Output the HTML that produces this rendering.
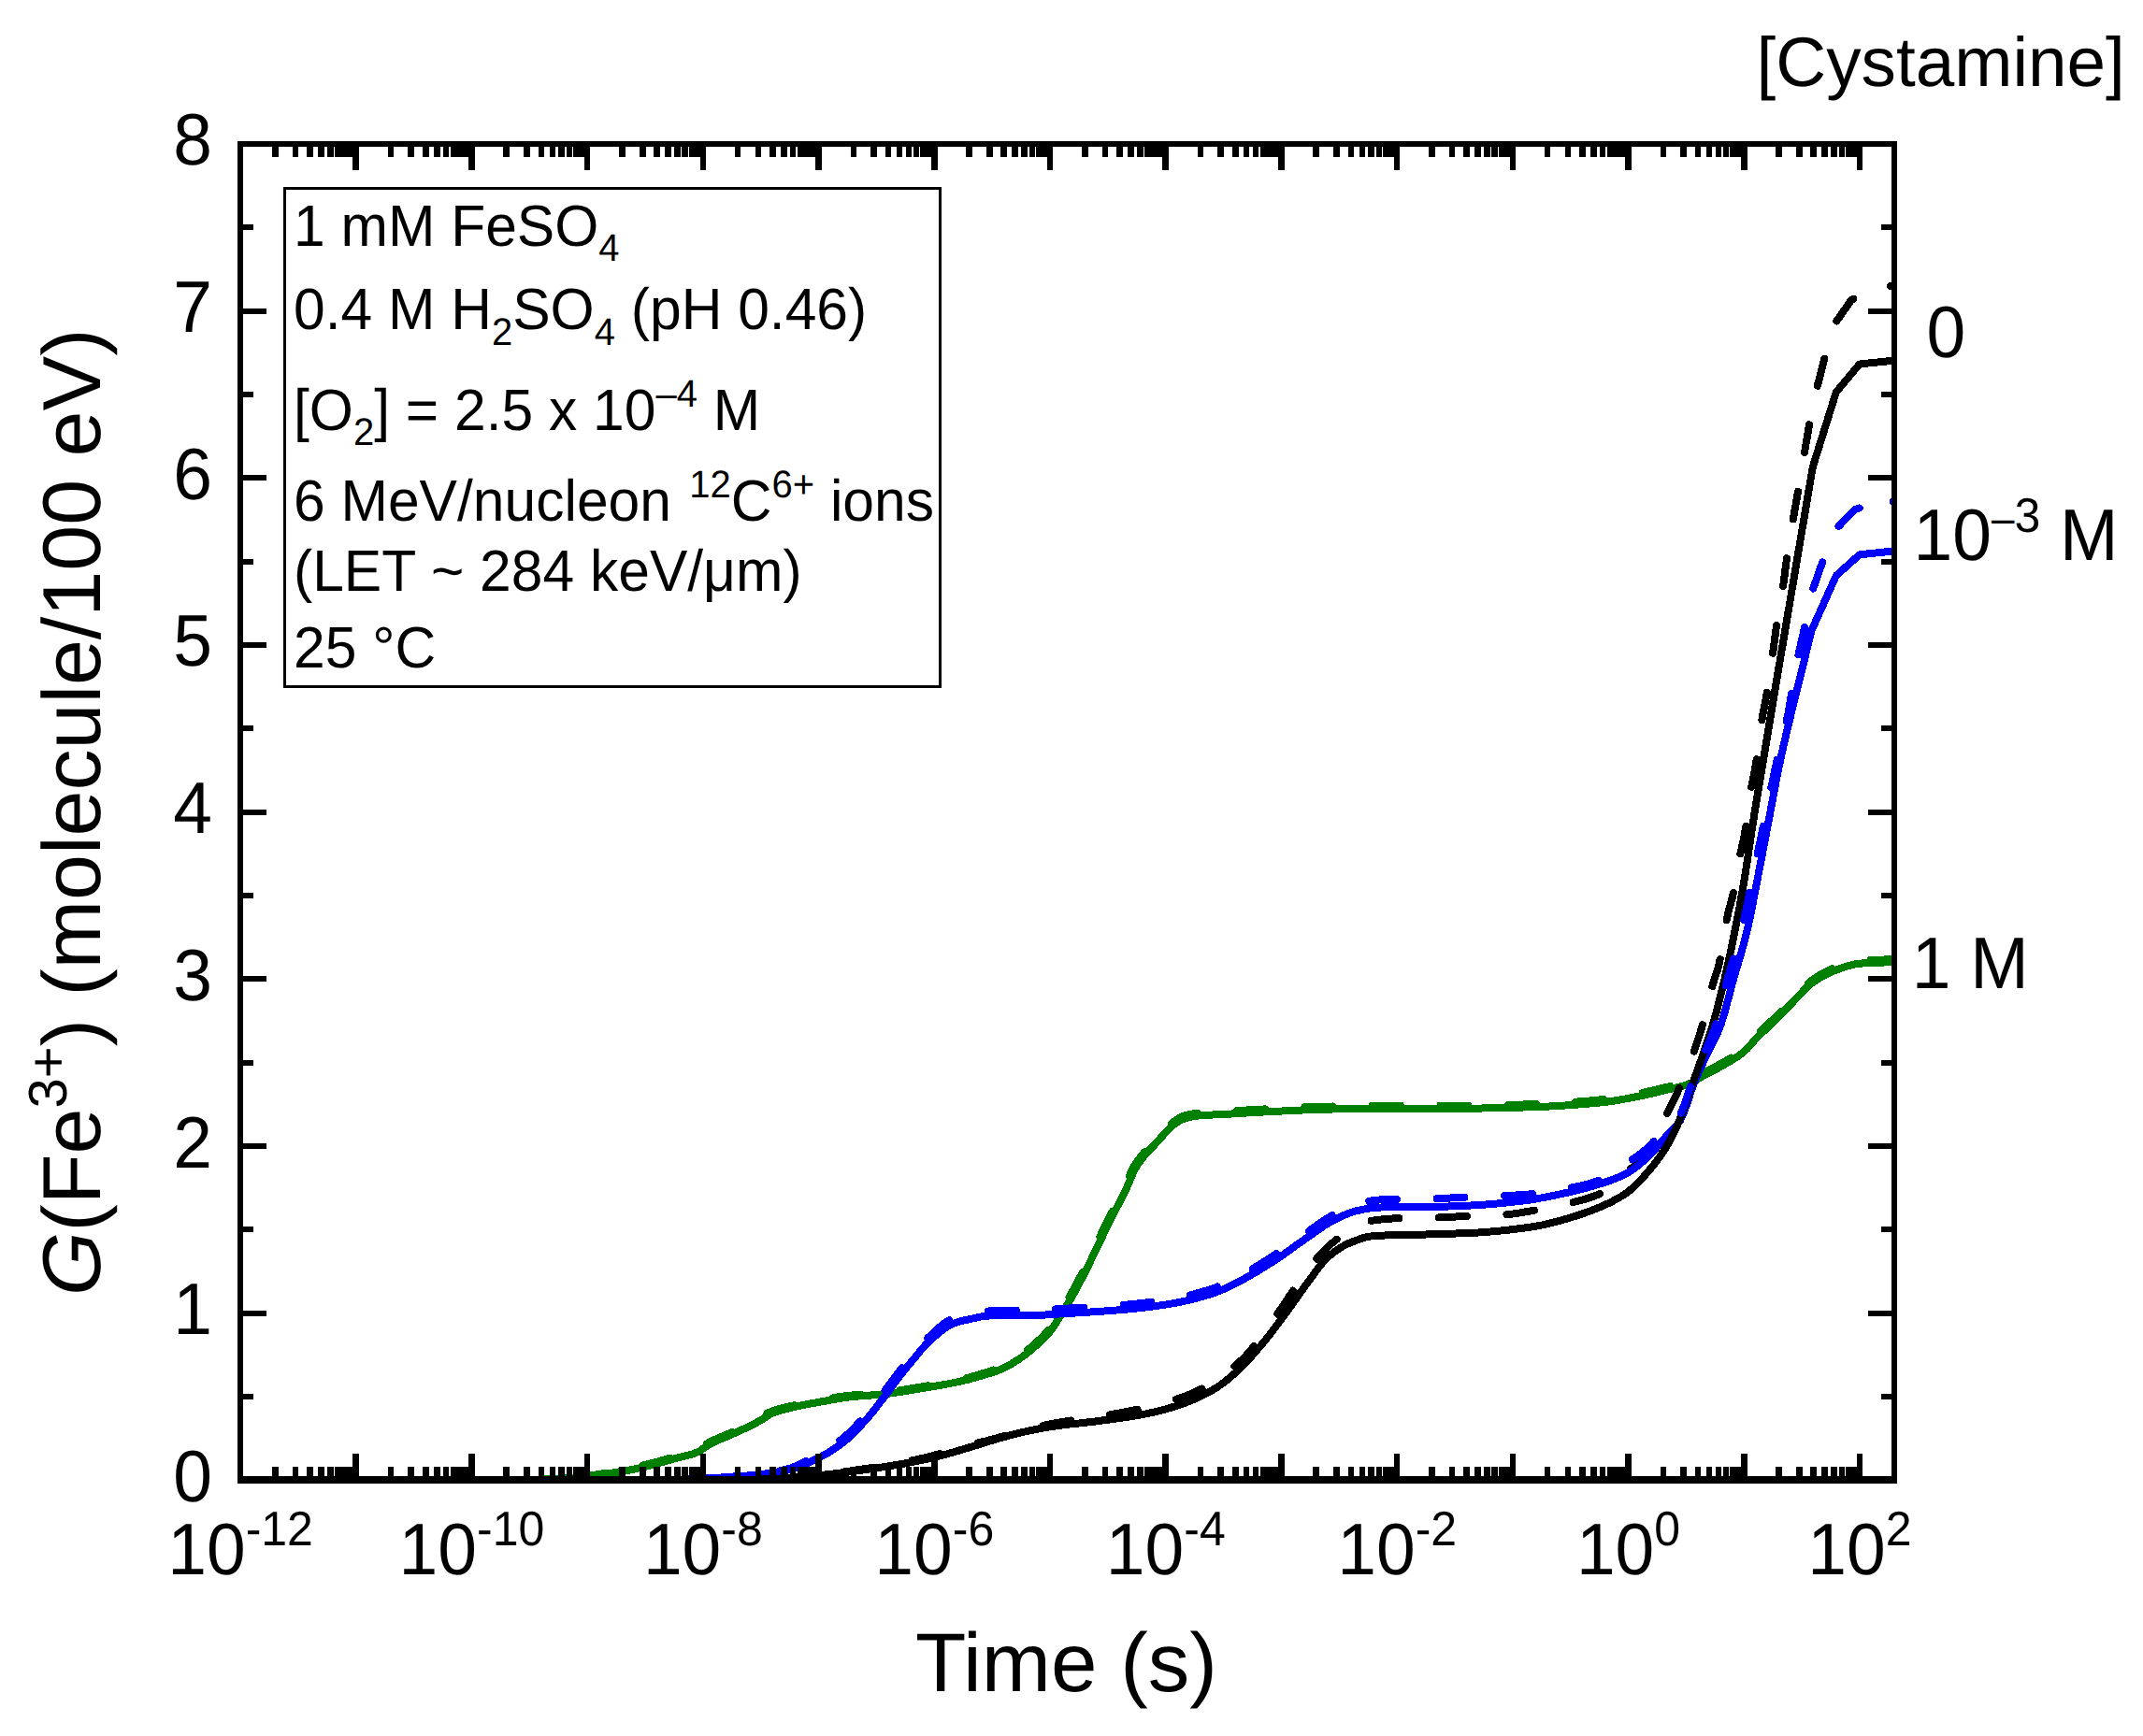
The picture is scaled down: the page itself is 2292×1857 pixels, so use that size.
<!DOCTYPE html>
<html lang="en"><head><meta charset="utf-8"><title>G(Fe3+) versus time</title>
<style>html,body{margin:0;padding:0;background:#fff}svg{display:block}text{font-family:"Liberation Sans", Arial, Helvetica, sans-serif;fill:#000}</style></head><body>
<svg width="2292" height="1857" viewBox="0 0 2292 1857" shape-rendering="crispEdges" text-rendering="geometricPrecision">
<rect x="0" y="0" width="2292" height="1857" fill="#fff"/>
<defs><clipPath id="plot"><rect x="257.0" y="154.0" width="1769.0" height="1432.0"/></clipPath></defs>
<g clip-path="url(#plot)" fill="none" stroke-linecap="round" stroke-linejoin="round" stroke-width="8" shape-rendering="crispEdges">
<path d="M257.0,1583.4 L261.0,1583.4 L265.0,1583.4 L269.0,1583.4 L273.0,1583.4 L277.0,1583.4 L281.0,1583.4 L285.0,1583.4 L289.0,1583.4 L293.0,1583.4 L297.0,1583.4 L301.0,1583.4 L305.0,1583.4 L309.0,1583.4 L313.0,1583.4 L317.0,1583.4 L321.0,1583.4 L325.0,1583.4 L329.0,1583.4 L333.0,1583.4 L337.0,1583.4 L341.0,1583.4 L345.0,1583.4 L349.0,1583.4 L353.0,1583.4 L357.0,1583.4 L361.0,1583.4 L365.0,1583.4 L369.0,1583.4 L373.0,1583.4 L377.0,1583.4 L381.0,1583.4 L385.0,1583.4 L389.0,1583.4 L393.0,1583.4 L397.0,1583.4 L401.0,1583.4 L405.0,1583.4 L409.0,1583.4 L413.0,1583.4 L417.0,1583.4 L421.0,1583.4 L425.0,1583.4 L429.0,1583.4 L433.0,1583.4 L437.0,1583.4 L441.0,1583.4 L445.0,1583.4 L449.0,1583.4 L453.0,1583.4 L457.0,1583.4 L461.0,1583.4 L465.0,1583.4 L469.0,1583.4 L473.0,1583.3 L477.0,1583.3 L481.0,1583.3 L485.0,1583.3 L489.0,1583.3 L493.0,1583.3 L497.0,1583.3 L501.0,1583.3 L505.0,1583.3 L509.0,1583.3 L513.0,1583.3 L517.0,1583.3 L521.0,1583.3 L525.0,1583.2 L529.0,1583.2 L533.0,1583.2 L537.0,1583.2 L541.0,1583.2 L545.0,1583.2 L549.0,1583.1 L553.0,1583.1 L557.0,1583.0 L561.0,1583.0 L565.0,1582.9 L569.0,1582.8 L573.0,1582.7 L577.0,1582.6 L581.0,1582.5 L585.0,1582.4 L589.0,1582.2 L593.0,1582.1 L597.0,1581.9 L601.0,1581.6 L605.0,1581.3 L609.0,1580.9 L613.0,1580.5 L617.0,1580.0 L621.0,1579.6 L625.0,1579.2 L629.0,1578.7 L633.0,1578.3 L637.0,1577.8 L641.0,1577.4 L645.0,1576.9 L649.0,1576.3 L653.0,1575.8 L657.0,1575.2 L661.0,1574.6 L665.0,1574.0 L669.0,1573.3 L673.0,1572.6 L677.0,1571.8 L681.0,1570.9 L685.0,1570.1 L689.0,1569.2 L693.0,1568.2 L697.0,1567.2 L701.0,1566.1 L705.0,1565.0 L709.0,1563.8 L713.0,1562.7 L717.0,1561.6 L721.0,1560.5 L725.0,1559.5 L729.0,1558.5 L733.0,1557.5 L737.0,1556.5 L741.0,1555.3 L745.0,1553.8 L749.0,1551.9 L753.0,1548.7 L757.0,1546.2 L761.0,1544.0 L765.0,1542.0 L769.0,1540.2 L773.0,1538.6 L777.0,1536.9 L781.0,1535.2 L785.0,1533.3 L789.0,1531.5 L793.0,1529.7 L797.0,1527.8 L801.0,1525.9 L805.0,1523.9 L809.0,1521.8 L813.0,1519.6 L817.0,1517.3 L821.0,1514.4 L825.0,1512.1 L829.0,1510.5 L833.0,1509.2 L837.0,1508.1 L841.0,1507.1 L845.0,1506.2 L849.0,1505.2 L853.0,1504.3 L857.0,1503.4 L861.0,1502.6 L865.0,1501.8 L869.0,1501.1 L873.0,1500.4 L877.0,1499.6 L881.0,1498.9 L885.0,1498.2 L889.0,1497.5 L893.0,1496.8 L897.0,1496.1 L901.0,1495.5 L905.0,1494.9 L909.0,1494.4 L913.0,1494.0 L917.0,1493.6 L921.0,1493.3 L925.0,1493.0 L929.0,1492.7 L933.0,1492.4 L937.0,1492.1 L941.0,1491.7 L945.0,1491.3 L949.0,1490.8 L953.0,1490.3 L957.0,1489.8 L961.0,1489.2 L965.0,1488.6 L969.0,1488.0 L973.0,1487.3 L977.0,1486.7 L981.0,1486.0 L985.0,1485.3 L989.0,1484.7 L993.0,1484.0 L997.0,1483.3 L1001.0,1482.6 L1005.0,1481.9 L1009.0,1481.2 L1013.0,1480.5 L1017.0,1479.7 L1021.0,1478.9 L1025.0,1478.1 L1029.0,1477.2 L1033.0,1476.3 L1037.0,1475.3 L1041.0,1474.1 L1045.0,1473.0 L1049.0,1471.8 L1053.0,1470.6 L1057.0,1469.4 L1061.0,1468.2 L1065.0,1466.9 L1069.0,1465.4 L1073.0,1463.7 L1077.0,1461.7 L1081.0,1459.4 L1085.0,1456.9 L1089.0,1454.4 L1093.0,1451.7 L1097.0,1448.7 L1101.0,1445.5 L1105.0,1442.1 L1109.0,1438.6 L1113.0,1435.0 L1117.0,1431.1 L1121.0,1426.8 L1125.0,1421.7 L1129.0,1415.7 L1133.0,1409.2 L1137.0,1402.8 L1141.0,1396.4 L1145.0,1389.7 L1149.0,1382.6 L1153.0,1375.2 L1157.0,1367.6 L1161.0,1359.8 L1165.0,1351.7 L1169.0,1343.4 L1173.0,1335.0 L1177.0,1326.7 L1181.0,1318.5 L1185.0,1310.5 L1189.0,1302.5 L1193.0,1294.5 L1197.0,1286.7 L1201.0,1279.0 L1205.0,1270.8 L1209.0,1261.3 L1213.0,1252.1 L1217.0,1245.5 L1221.0,1239.9 L1225.0,1235.0 L1229.0,1230.6 L1233.0,1226.5 L1237.0,1222.2 L1241.0,1217.7 L1245.0,1213.2 L1249.0,1208.9 L1253.0,1204.6 L1257.0,1201.7 L1261.0,1199.2 L1265.0,1197.2 L1269.0,1195.8 L1273.0,1194.8 L1277.0,1194.2 L1281.0,1193.6 L1285.0,1193.3 L1289.0,1193.0 L1293.0,1192.7 L1297.0,1192.5 L1301.0,1192.3 L1305.0,1192.1 L1309.0,1191.9 L1313.0,1191.7 L1317.0,1191.5 L1321.0,1191.3 L1325.0,1191.0 L1329.0,1190.8 L1333.0,1190.5 L1337.0,1190.3 L1341.0,1190.0 L1345.0,1189.8 L1349.0,1189.6 L1353.0,1189.4 L1357.0,1189.2 L1361.0,1189.0 L1365.0,1188.8 L1369.0,1188.6 L1373.0,1188.4 L1377.0,1188.2 L1381.0,1188.0 L1385.0,1187.8 L1389.0,1187.7 L1393.0,1187.5 L1397.0,1187.3 L1401.0,1187.2 L1405.0,1187.0 L1409.0,1186.9 L1413.0,1186.8 L1417.0,1186.7 L1421.0,1186.6 L1425.0,1186.5 L1429.0,1186.4 L1433.0,1186.3 L1437.0,1186.3 L1441.0,1186.2 L1445.0,1186.1 L1449.0,1186.0 L1453.0,1186.0 L1457.0,1185.9 L1461.0,1185.8 L1465.0,1185.8 L1469.0,1185.7 L1473.0,1185.7 L1477.0,1185.6 L1481.0,1185.6 L1485.0,1185.6 L1489.0,1185.5 L1493.0,1185.5 L1497.0,1185.5 L1501.0,1185.5 L1505.0,1185.5 L1509.0,1185.5 L1513.0,1185.5 L1517.0,1185.5 L1521.0,1185.5 L1525.0,1185.5 L1529.0,1185.5 L1533.0,1185.5 L1537.0,1185.5 L1541.0,1185.5 L1545.0,1185.5 L1549.0,1185.5 L1553.0,1185.5 L1557.0,1185.5 L1561.0,1185.5 L1565.0,1185.5 L1569.0,1185.5 L1573.0,1185.5 L1577.0,1185.5 L1581.0,1185.5 L1585.0,1185.5 L1589.0,1185.4 L1593.0,1185.4 L1597.0,1185.3 L1601.0,1185.2 L1605.0,1185.2 L1609.0,1185.1 L1613.0,1185.0 L1617.0,1184.9 L1621.0,1184.7 L1625.0,1184.6 L1629.0,1184.5 L1633.0,1184.4 L1637.0,1184.2 L1641.0,1184.1 L1645.0,1184.0 L1649.0,1183.8 L1653.0,1183.7 L1657.0,1183.5 L1661.0,1183.3 L1665.0,1183.1 L1669.0,1182.9 L1673.0,1182.6 L1677.0,1182.3 L1681.0,1182.0 L1685.0,1181.7 L1689.0,1181.4 L1693.0,1181.1 L1697.0,1180.8 L1701.0,1180.4 L1705.0,1180.1 L1709.0,1179.7 L1713.0,1179.2 L1717.0,1178.8 L1721.0,1178.3 L1725.0,1177.7 L1729.0,1177.1 L1733.0,1176.4 L1737.0,1175.7 L1741.0,1175.0 L1745.0,1174.2 L1749.0,1173.4 L1753.0,1172.6 L1757.0,1171.8 L1761.0,1170.9 L1765.0,1170.0 L1769.0,1169.1 L1773.0,1168.2 L1777.0,1167.2 L1781.0,1166.2 L1785.0,1165.3 L1789.0,1164.3 L1793.0,1163.4 L1797.0,1162.4 L1801.0,1161.3 L1805.0,1160.0 L1809.0,1158.4 L1813.0,1156.2 L1817.0,1153.7 L1821.0,1151.3 L1825.0,1149.1 L1829.0,1147.0 L1833.0,1144.9 L1837.0,1142.8 L1841.0,1140.6 L1845.0,1138.3 L1849.0,1136.0 L1853.0,1133.6 L1857.0,1131.1 L1861.0,1128.4 L1865.0,1125.3 L1869.0,1121.4 L1873.0,1116.8 L1877.0,1112.3 L1881.0,1108.2 L1885.0,1104.3 L1889.0,1100.5 L1893.0,1096.6 L1897.0,1092.8 L1901.0,1088.8 L1905.0,1084.7 L1909.0,1080.6 L1913.0,1076.5 L1917.0,1072.4 L1921.0,1068.3 L1925.0,1064.0 L1929.0,1059.6 L1933.0,1055.6 L1937.0,1052.2 L1941.0,1049.4 L1945.0,1046.8 L1949.0,1044.4 L1953.0,1042.3 L1957.0,1040.3 L1961.0,1038.7 L1965.0,1037.2 L1969.0,1035.7 L1973.0,1034.3 L1977.0,1033.1 L1981.0,1032.0 L1985.0,1031.2 L1989.0,1030.7 L1993.0,1030.4 L1997.0,1030.2 L2001.0,1030.0 L2005.0,1029.8 L2009.0,1029.7 L2013.0,1029.6 L2017.0,1029.4 L2021.0,1029.4 L2025.0,1029.3 L2029.0,1029.3 L2030.0,1029.3" stroke="#008000"/>
<path d="M257.0,1583.4 L261.0,1583.4 L265.0,1583.4 L269.0,1583.4 L273.0,1583.4 L277.0,1583.4 L281.0,1583.4 L285.0,1583.4 L289.0,1583.4 L293.0,1583.4 L297.0,1583.4 L301.0,1583.4 L305.0,1583.4 L309.0,1583.4 L313.0,1583.4 L317.0,1583.4 L321.0,1583.4 L325.0,1583.4 L329.0,1583.4 L333.0,1583.4 L337.0,1583.4 L341.0,1583.4 L345.0,1583.4 L349.0,1583.4 L353.0,1583.4 L357.0,1583.4 L361.0,1583.4 L365.0,1583.4 L369.0,1583.4 L373.0,1583.4 L377.0,1583.4 L381.0,1583.4 L385.0,1583.4 L389.0,1583.4 L393.0,1583.4 L397.0,1583.4 L401.0,1583.4 L405.0,1583.4 L409.0,1583.4 L413.0,1583.4 L417.0,1583.4 L421.0,1583.4 L425.0,1583.4 L429.0,1583.4 L433.0,1583.4 L437.0,1583.4 L441.0,1583.4 L445.0,1583.4 L449.0,1583.4 L453.0,1583.4 L457.0,1583.4 L461.0,1583.4 L465.0,1583.4 L469.0,1583.4 L473.0,1583.3 L477.0,1583.3 L481.0,1583.3 L485.0,1583.3 L489.0,1583.3 L493.0,1583.3 L497.0,1583.3 L501.0,1583.3 L505.0,1583.3 L509.0,1583.3 L513.0,1583.3 L517.0,1583.3 L521.0,1583.3 L525.0,1583.2 L529.0,1583.2 L533.0,1583.2 L537.0,1583.2 L541.0,1583.2 L545.0,1583.2 L549.0,1583.1 L553.0,1583.1 L557.0,1583.0 L561.0,1583.0 L565.0,1582.9 L569.0,1582.8 L573.0,1582.7 L577.0,1582.6 L581.0,1582.5 L585.0,1582.4 L589.0,1582.2 L593.0,1582.1 L597.0,1581.9 L601.0,1581.6 L605.0,1581.3 L609.0,1581.0 L613.0,1580.6 L617.0,1580.1 L621.0,1579.7 L625.0,1579.2 L629.0,1578.7 L633.0,1578.2 L637.0,1577.6 L641.0,1577.0 L645.0,1576.2 L649.0,1575.4 L653.0,1574.6 L657.0,1573.7 L661.0,1572.9 L665.0,1572.2 L669.0,1571.4 L673.0,1570.6 L677.0,1569.8 L681.0,1569.0 L685.0,1568.2 L689.0,1567.2 L693.0,1566.2 L697.0,1565.2 L701.0,1564.1 L705.0,1563.0 L709.0,1561.8 L713.0,1560.7 L717.0,1559.6 L721.0,1558.5 L725.0,1557.5 L729.0,1556.6 L733.0,1555.6 L737.0,1554.5 L741.0,1553.1 L745.0,1551.5 L749.0,1549.1 L753.0,1546.0 L757.0,1543.7 L761.0,1541.6 L765.0,1539.7 L769.0,1538.0 L773.0,1536.3 L777.0,1534.6 L781.0,1532.9 L785.0,1531.0 L789.0,1529.2 L793.0,1527.3 L797.0,1525.4 L801.0,1523.5 L805.0,1521.5 L809.0,1519.3 L813.0,1517.1 L817.0,1514.6 L821.0,1511.6 L825.0,1509.8 L829.0,1508.4 L833.0,1507.2 L837.0,1506.1 L841.0,1505.2 L845.0,1504.2 L849.0,1503.3 L853.0,1502.4 L857.0,1501.6 L861.0,1500.8 L865.0,1500.0 L869.0,1499.3 L873.0,1498.5 L877.0,1497.8 L881.0,1497.1 L885.0,1496.4 L889.0,1495.6 L893.0,1495.0 L897.0,1494.3 L901.0,1493.7 L905.0,1493.2 L909.0,1492.7 L913.0,1492.3 L917.0,1492.0 L921.0,1491.6 L925.0,1491.3 L929.0,1491.0 L933.0,1490.7 L937.0,1490.4 L941.0,1490.0 L945.0,1489.6 L949.0,1489.1 L953.0,1488.6 L957.0,1488.0 L961.0,1487.5 L965.0,1486.8 L969.0,1486.2 L973.0,1485.6 L977.0,1484.9 L981.0,1484.2 L985.0,1483.5 L989.0,1482.9 L993.0,1482.2 L997.0,1481.5 L1001.0,1480.8 L1005.0,1480.1 L1009.0,1479.4 L1013.0,1478.7 L1017.0,1477.9 L1021.0,1477.1 L1025.0,1476.2 L1029.0,1475.3 L1033.0,1474.3 L1037.0,1473.3 L1041.0,1472.1 L1045.0,1471.0 L1049.0,1469.8 L1053.0,1468.6 L1057.0,1467.4 L1061.0,1466.1 L1065.0,1464.8 L1069.0,1463.2 L1073.0,1461.3 L1077.0,1459.2 L1081.0,1456.8 L1085.0,1454.3 L1089.0,1451.7 L1093.0,1448.9 L1097.0,1445.8 L1101.0,1442.5 L1105.0,1439.1 L1109.0,1435.5 L1113.0,1431.8 L1117.0,1427.7 L1121.0,1423.1 L1125.0,1417.6 L1129.0,1411.3 L1133.0,1404.8 L1137.0,1398.4 L1141.0,1391.9 L1145.0,1385.0 L1149.0,1377.8 L1153.0,1370.3 L1157.0,1362.6 L1161.0,1354.7 L1165.0,1346.5 L1169.0,1338.1 L1173.0,1329.8 L1177.0,1321.5 L1181.0,1313.4 L1185.0,1305.4 L1189.0,1297.4 L1193.0,1289.5 L1197.0,1281.8 L1201.0,1273.9 L1205.0,1265.4 L1209.0,1255.2 L1213.0,1247.4 L1217.0,1241.4 L1221.0,1236.1 L1225.0,1231.4 L1229.0,1227.2 L1233.0,1223.1 L1237.0,1218.8 L1241.0,1214.4 L1245.0,1210.1 L1249.0,1205.9 L1253.0,1201.7 L1257.0,1198.7 L1261.0,1196.2 L1265.0,1194.2 L1269.0,1192.8 L1273.0,1191.8 L1277.0,1191.2 L1281.0,1190.6 L1285.0,1190.3 L1289.0,1190.0 L1293.0,1189.7 L1297.0,1189.5 L1301.0,1189.3 L1305.0,1189.1 L1309.0,1188.9 L1313.0,1188.7 L1317.0,1188.5 L1321.0,1188.3 L1325.0,1188.0 L1329.0,1187.8 L1333.0,1187.5 L1337.0,1187.3 L1341.0,1187.0 L1345.0,1186.8 L1349.0,1186.6 L1353.0,1186.4 L1357.0,1186.2 L1361.0,1186.0 L1365.0,1185.8 L1369.0,1185.6 L1373.0,1185.4 L1377.0,1185.2 L1381.0,1185.0 L1385.0,1184.8 L1389.0,1184.7 L1393.0,1184.5 L1397.0,1184.3 L1401.0,1184.2 L1405.0,1184.0 L1409.0,1183.9 L1413.0,1183.8 L1417.0,1183.7 L1421.0,1183.6 L1425.0,1183.5 L1429.0,1183.4 L1433.0,1183.3 L1437.0,1183.3 L1441.0,1183.2 L1445.0,1183.1 L1449.0,1183.0 L1453.0,1183.0 L1457.0,1182.9 L1461.0,1182.8 L1465.0,1182.8 L1469.0,1182.7 L1473.0,1182.7 L1477.0,1182.6 L1481.0,1182.6 L1485.0,1182.6 L1489.0,1182.5 L1493.0,1182.5 L1497.0,1182.5 L1501.0,1182.5 L1505.0,1182.5 L1509.0,1182.5 L1513.0,1182.5 L1517.0,1182.5 L1521.0,1182.5 L1525.0,1182.5 L1529.0,1182.5 L1533.0,1182.5 L1537.0,1182.5 L1541.0,1182.5 L1545.0,1182.5 L1549.0,1182.5 L1553.0,1182.5 L1557.0,1182.5 L1561.0,1182.5 L1565.0,1182.5 L1569.0,1182.5 L1573.0,1182.5 L1577.0,1182.5 L1581.0,1182.5 L1585.0,1182.5 L1589.0,1182.4 L1593.0,1182.4 L1597.0,1182.3 L1601.0,1182.2 L1605.0,1182.2 L1609.0,1182.1 L1613.0,1182.0 L1617.0,1181.9 L1621.0,1181.7 L1625.0,1181.6 L1629.0,1181.5 L1633.0,1181.4 L1637.0,1181.2 L1641.0,1181.1 L1645.0,1181.0 L1649.0,1180.8 L1653.0,1180.7 L1657.0,1180.5 L1661.0,1180.3 L1665.0,1180.1 L1669.0,1179.9 L1673.0,1179.6 L1677.0,1179.3 L1681.0,1179.0 L1685.0,1178.7 L1689.0,1178.4 L1693.0,1178.1 L1697.0,1177.8 L1701.0,1177.4 L1705.0,1177.1 L1709.0,1176.7 L1713.0,1176.2 L1717.0,1175.8 L1721.0,1175.3 L1725.0,1174.7 L1729.0,1174.1 L1733.0,1173.4 L1737.0,1172.7 L1741.0,1172.0 L1745.0,1171.2 L1749.0,1170.4 L1753.0,1169.6 L1757.0,1168.8 L1761.0,1167.9 L1765.0,1167.0 L1769.0,1166.1 L1773.0,1165.2 L1777.0,1164.2 L1781.0,1163.2 L1785.0,1162.3 L1789.0,1161.3 L1793.0,1160.4 L1797.0,1159.4 L1801.0,1158.3 L1805.0,1157.0 L1809.0,1155.4 L1813.0,1153.2 L1817.0,1150.7 L1821.0,1148.3 L1825.0,1146.1 L1829.0,1144.0 L1833.0,1141.9 L1837.0,1139.8 L1841.0,1137.6 L1845.0,1135.3 L1849.0,1133.0 L1853.0,1130.6 L1857.0,1128.1 L1861.0,1125.4 L1865.0,1122.3 L1869.0,1118.4 L1873.0,1113.8 L1877.0,1109.3 L1881.0,1105.2 L1885.0,1101.3 L1889.0,1097.5 L1893.0,1093.6 L1897.0,1089.8 L1901.0,1085.8 L1905.0,1081.7 L1909.0,1077.6 L1913.0,1073.5 L1917.0,1069.4 L1921.0,1065.3 L1925.0,1061.0 L1929.0,1056.6 L1933.0,1052.6 L1937.0,1049.2 L1941.0,1046.4 L1945.0,1043.8 L1949.0,1041.4 L1953.0,1039.3 L1957.0,1037.3 L1961.0,1035.7 L1965.0,1034.2 L1969.0,1032.7 L1973.0,1031.3 L1977.0,1030.1 L1981.0,1029.0 L1985.0,1028.2 L1989.0,1027.7 L1993.0,1027.4 L1997.0,1027.2 L2001.0,1027.0 L2005.0,1026.8 L2009.0,1026.7 L2013.0,1026.6 L2017.0,1026.4 L2021.0,1026.4 L2025.0,1026.3 L2029.0,1026.3 L2030.0,1026.3" stroke="#008000" stroke-dasharray="30 42.5" stroke-dashoffset="3.2"/>
<path d="M257.0,1583.4 L261.0,1583.4 L265.0,1583.4 L269.0,1583.4 L273.0,1583.4 L277.0,1583.4 L281.0,1583.4 L285.0,1583.4 L289.0,1583.4 L293.0,1583.4 L297.0,1583.4 L301.0,1583.4 L305.0,1583.4 L309.0,1583.4 L313.0,1583.4 L317.0,1583.4 L321.0,1583.4 L325.0,1583.4 L329.0,1583.4 L333.0,1583.4 L337.0,1583.4 L341.0,1583.4 L345.0,1583.4 L349.0,1583.4 L353.0,1583.4 L357.0,1583.4 L361.0,1583.4 L365.0,1583.4 L369.0,1583.4 L373.0,1583.4 L377.0,1583.4 L381.0,1583.4 L385.0,1583.4 L389.0,1583.4 L393.0,1583.4 L397.0,1583.4 L401.0,1583.4 L405.0,1583.4 L409.0,1583.4 L413.0,1583.4 L417.0,1583.4 L421.0,1583.4 L425.0,1583.4 L429.0,1583.4 L433.0,1583.4 L437.0,1583.4 L441.0,1583.4 L445.0,1583.4 L449.0,1583.4 L453.0,1583.4 L457.0,1583.4 L461.0,1583.4 L465.0,1583.4 L469.0,1583.4 L473.0,1583.4 L477.0,1583.4 L481.0,1583.4 L485.0,1583.4 L489.0,1583.4 L493.0,1583.4 L497.0,1583.4 L501.0,1583.4 L505.0,1583.4 L509.0,1583.4 L513.0,1583.4 L517.0,1583.4 L521.0,1583.4 L525.0,1583.4 L529.0,1583.4 L533.0,1583.4 L537.0,1583.4 L541.0,1583.4 L545.0,1583.4 L549.0,1583.4 L553.0,1583.4 L557.0,1583.4 L561.0,1583.4 L565.0,1583.4 L569.0,1583.4 L573.0,1583.4 L577.0,1583.4 L581.0,1583.4 L585.0,1583.4 L589.0,1583.4 L593.0,1583.4 L597.0,1583.4 L601.0,1583.4 L605.0,1583.4 L609.0,1583.4 L613.0,1583.4 L617.0,1583.4 L621.0,1583.4 L625.0,1583.4 L629.0,1583.4 L633.0,1583.4 L637.0,1583.4 L641.0,1583.4 L645.0,1583.4 L649.0,1583.4 L653.0,1583.4 L657.0,1583.4 L661.0,1583.4 L665.0,1583.4 L669.0,1583.4 L673.0,1583.4 L677.0,1583.4 L681.0,1583.4 L685.0,1583.4 L689.0,1583.4 L693.0,1583.4 L697.0,1583.4 L701.0,1583.4 L705.0,1583.4 L709.0,1583.4 L713.0,1583.4 L717.0,1583.4 L721.0,1583.4 L725.0,1583.4 L729.0,1583.4 L733.0,1583.3 L737.0,1583.3 L741.0,1583.3 L745.0,1583.3 L749.0,1583.3 L753.0,1583.3 L757.0,1583.2 L761.0,1583.2 L765.0,1583.2 L769.0,1583.2 L773.0,1583.1 L777.0,1583.1 L781.0,1583.1 L785.0,1583.0 L789.0,1583.0 L793.0,1583.0 L797.0,1582.9 L801.0,1582.8 L805.0,1582.7 L809.0,1582.6 L813.0,1582.5 L817.0,1582.3 L821.0,1582.1 L825.0,1582.0 L829.0,1581.8 L833.0,1581.6 L837.0,1581.4 L841.0,1581.1 L845.0,1580.8 L849.0,1580.5 L853.0,1580.1 L857.0,1579.7 L861.0,1579.3 L865.0,1578.9 L869.0,1578.4 L873.0,1578.0 L877.0,1577.6 L881.0,1577.1 L885.0,1576.6 L889.0,1576.1 L893.0,1575.6 L897.0,1575.1 L901.0,1574.6 L905.0,1574.0 L909.0,1573.5 L913.0,1572.9 L917.0,1572.3 L921.0,1571.7 L925.0,1571.1 L929.0,1570.5 L933.0,1569.9 L937.0,1569.3 L941.0,1568.7 L945.0,1568.0 L949.0,1567.3 L953.0,1566.6 L957.0,1565.9 L961.0,1565.2 L965.0,1564.5 L969.0,1563.7 L973.0,1562.9 L977.0,1562.0 L981.0,1561.2 L985.0,1560.2 L989.0,1559.3 L993.0,1558.3 L997.0,1557.3 L1001.0,1556.2 L1005.0,1555.1 L1009.0,1553.9 L1013.0,1552.7 L1017.0,1551.4 L1021.0,1550.1 L1025.0,1548.9 L1029.0,1547.7 L1033.0,1546.5 L1037.0,1545.5 L1041.0,1544.6 L1045.0,1543.7 L1049.0,1542.7 L1053.0,1541.8 L1057.0,1540.7 L1061.0,1539.7 L1065.0,1538.6 L1069.0,1537.5 L1073.0,1536.4 L1077.0,1535.3 L1081.0,1534.2 L1085.0,1533.0 L1089.0,1531.9 L1093.0,1530.8 L1097.0,1529.7 L1101.0,1528.6 L1105.0,1527.6 L1109.0,1526.6 L1113.0,1525.6 L1117.0,1524.7 L1121.0,1523.8 L1125.0,1523.0 L1129.0,1522.2 L1133.0,1521.5 L1137.0,1520.8 L1141.0,1520.2 L1145.0,1519.5 L1149.0,1518.9 L1153.0,1518.4 L1157.0,1517.8 L1161.0,1517.2 L1165.0,1516.7 L1169.0,1516.1 L1173.0,1515.5 L1177.0,1514.9 L1181.0,1514.3 L1185.0,1513.7 L1189.0,1513.0 L1193.0,1512.3 L1197.0,1511.6 L1201.0,1510.8 L1205.0,1510.0 L1209.0,1509.2 L1213.0,1508.3 L1217.0,1507.5 L1221.0,1506.6 L1225.0,1505.7 L1229.0,1504.8 L1233.0,1503.8 L1237.0,1502.8 L1241.0,1501.8 L1245.0,1500.7 L1249.0,1499.5 L1253.0,1498.3 L1257.0,1497.1 L1261.0,1495.7 L1265.0,1494.3 L1269.0,1492.9 L1273.0,1491.3 L1277.0,1489.6 L1281.0,1487.7 L1285.0,1485.7 L1289.0,1483.5 L1293.0,1481.1 L1297.0,1478.6 L1301.0,1476.0 L1305.0,1473.2 L1309.0,1470.3 L1313.0,1467.3 L1317.0,1464.1 L1321.0,1460.9 L1325.0,1457.5 L1329.0,1453.8 L1333.0,1449.7 L1337.0,1445.2 L1341.0,1440.3 L1345.0,1435.1 L1349.0,1429.8 L1353.0,1424.2 L1357.0,1418.5 L1361.0,1412.8 L1365.0,1407.1 L1369.0,1401.4 L1373.0,1395.6 L1377.0,1389.5 L1381.0,1383.5 L1385.0,1377.6 L1389.0,1371.7 L1393.0,1365.9 L1397.0,1360.2 L1401.0,1354.9 L1405.0,1350.0 L1409.0,1345.4 L1413.0,1341.0 L1417.0,1336.9 L1421.0,1333.0 L1425.0,1329.5 L1429.0,1326.3 L1433.0,1323.2 L1437.0,1320.2 L1441.0,1317.2 L1445.0,1314.4 L1449.0,1311.8 L1453.0,1309.7 L1457.0,1308.0 L1461.0,1306.8 L1465.0,1306.1 L1469.0,1305.5 L1473.0,1305.0 L1477.0,1304.5 L1481.0,1304.1 L1485.0,1303.8 L1489.0,1303.5 L1493.0,1303.3 L1497.0,1303.1 L1501.0,1303.0 L1505.0,1302.9 L1509.0,1302.8 L1513.0,1302.8 L1517.0,1302.7 L1521.0,1302.7 L1525.0,1302.7 L1529.0,1302.6 L1533.0,1302.5 L1537.0,1302.5 L1541.0,1302.3 L1545.0,1302.1 L1549.0,1301.9 L1553.0,1301.7 L1557.0,1301.5 L1561.0,1301.3 L1565.0,1301.1 L1569.0,1300.9 L1573.0,1300.7 L1577.0,1300.6 L1581.0,1300.5 L1585.0,1300.3 L1589.0,1300.2 L1593.0,1300.1 L1597.0,1300.0 L1601.0,1299.8 L1605.0,1299.6 L1609.0,1299.4 L1613.0,1299.1 L1617.0,1298.6 L1621.0,1298.1 L1625.0,1297.5 L1629.0,1296.8 L1633.0,1296.1 L1637.0,1295.4 L1641.0,1294.8 L1645.0,1294.1 L1649.0,1293.4 L1653.0,1292.6 L1657.0,1291.9 L1661.0,1291.0 L1665.0,1290.2 L1669.0,1289.3 L1673.0,1288.4 L1677.0,1287.4 L1681.0,1286.5 L1685.0,1285.5 L1689.0,1284.4 L1693.0,1283.4 L1697.0,1282.2 L1701.0,1280.9 L1705.0,1279.5 L1709.0,1277.9 L1713.0,1276.0 L1717.0,1273.5 L1721.0,1270.4 L1725.0,1267.0 L1729.0,1263.3 L1733.0,1259.6 L1737.0,1255.9 L1741.0,1252.5 L1745.0,1249.5 L1749.0,1246.7 L1753.0,1243.8 L1757.0,1240.6 L1761.0,1236.7 L1765.0,1231.4 L1769.0,1223.8 L1773.0,1214.6 L1777.0,1204.7 L1781.0,1195.4 L1785.0,1187.0 L1789.0,1179.0 L1793.0,1170.8 L1797.0,1162.1 L1801.0,1152.7 L1805.0,1142.8 L1809.0,1132.3 L1813.0,1121.2 L1817.0,1109.2 L1821.0,1096.1 L1825.0,1080.3 L1829.0,1063.4 L1833.0,1049.3 L1837.0,1037.4 L1841.0,1020.6 L1845.0,991.8 L1849.0,973.6 L1853.0,959.3 L1857.0,938.5 L1861.0,915.0 L1865.0,897.0 L1869.0,875.2 L1873.0,843.5 L1877.0,823.0 L1881.0,796.4 L1885.0,766.0 L1889.0,745.6 L1893.0,720.6 L1896.0,699.5 L1900.0,669.5 L1907.0,628.0 L1911.0,597.0 L1917.5,557.0 L1923.0,526.0 L1929.5,487.0 L1935.0,454.5 L1943.0,416.0 L1951.0,384.5 L1962.5,346.0 L1980.0,321.0 L2000.0,310.0 L2030.0,304.5" stroke="#000" stroke-dasharray="30 42.5" stroke-dashoffset="5"/>
<path d="M2024.7,536.4L2028,536.2" stroke="#0000ff"/>
<path d="M257.0,1583.4 L261.0,1583.4 L265.0,1583.4 L269.0,1583.4 L273.0,1583.4 L277.0,1583.4 L281.0,1583.4 L285.0,1583.4 L289.0,1583.4 L293.0,1583.4 L297.0,1583.4 L301.0,1583.4 L305.0,1583.4 L309.0,1583.4 L313.0,1583.4 L317.0,1583.4 L321.0,1583.4 L325.0,1583.4 L329.0,1583.4 L333.0,1583.4 L337.0,1583.4 L341.0,1583.4 L345.0,1583.4 L349.0,1583.4 L353.0,1583.4 L357.0,1583.4 L361.0,1583.4 L365.0,1583.4 L369.0,1583.4 L373.0,1583.4 L377.0,1583.4 L381.0,1583.4 L385.0,1583.4 L389.0,1583.4 L393.0,1583.4 L397.0,1583.4 L401.0,1583.4 L405.0,1583.4 L409.0,1583.4 L413.0,1583.4 L417.0,1583.4 L421.0,1583.4 L425.0,1583.4 L429.0,1583.4 L433.0,1583.4 L437.0,1583.4 L441.0,1583.4 L445.0,1583.4 L449.0,1583.4 L453.0,1583.4 L457.0,1583.4 L461.0,1583.4 L465.0,1583.4 L469.0,1583.4 L473.0,1583.4 L477.0,1583.4 L481.0,1583.4 L485.0,1583.4 L489.0,1583.4 L493.0,1583.4 L497.0,1583.4 L501.0,1583.4 L505.0,1583.4 L509.0,1583.4 L513.0,1583.4 L517.0,1583.4 L521.0,1583.4 L525.0,1583.4 L529.0,1583.4 L533.0,1583.4 L537.0,1583.4 L541.0,1583.4 L545.0,1583.4 L549.0,1583.4 L553.0,1583.4 L557.0,1583.4 L561.0,1583.4 L565.0,1583.4 L569.0,1583.4 L573.0,1583.4 L577.0,1583.4 L581.0,1583.4 L585.0,1583.4 L589.0,1583.4 L593.0,1583.4 L597.0,1583.4 L601.0,1583.4 L605.0,1583.4 L609.0,1583.4 L613.0,1583.4 L617.0,1583.4 L621.0,1583.4 L625.0,1583.4 L629.0,1583.4 L633.0,1583.4 L637.0,1583.4 L641.0,1583.4 L645.0,1583.4 L649.0,1583.4 L653.0,1583.3 L657.0,1583.3 L661.0,1583.3 L665.0,1583.3 L669.0,1583.3 L673.0,1583.3 L677.0,1583.3 L681.0,1583.3 L685.0,1583.3 L689.0,1583.2 L693.0,1583.2 L697.0,1583.2 L701.0,1583.2 L705.0,1583.2 L709.0,1583.1 L713.0,1583.0 L717.0,1582.9 L721.0,1582.8 L725.0,1582.7 L729.0,1582.6 L733.0,1582.4 L737.0,1582.2 L741.0,1582.1 L745.0,1581.9 L749.0,1581.7 L753.0,1581.5 L757.0,1581.3 L761.0,1581.2 L765.0,1581.0 L769.0,1580.7 L773.0,1580.5 L777.0,1580.3 L781.0,1580.0 L785.0,1579.7 L789.0,1579.4 L793.0,1579.1 L797.0,1578.7 L801.0,1578.4 L805.0,1578.0 L809.0,1577.6 L813.0,1577.2 L817.0,1576.7 L821.0,1576.2 L825.0,1575.7 L829.0,1575.1 L833.0,1574.4 L837.0,1573.6 L841.0,1572.8 L845.0,1571.9 L849.0,1570.8 L853.0,1569.4 L857.0,1567.9 L861.0,1566.3 L865.0,1564.5 L869.0,1562.7 L873.0,1560.7 L877.0,1558.8 L881.0,1556.7 L885.0,1554.4 L889.0,1551.9 L893.0,1549.3 L897.0,1546.5 L901.0,1543.5 L905.0,1540.3 L909.0,1536.7 L913.0,1532.9 L917.0,1528.8 L921.0,1524.5 L925.0,1520.1 L929.0,1515.6 L933.0,1510.8 L937.0,1505.7 L941.0,1500.5 L945.0,1495.2 L949.0,1489.9 L953.0,1484.5 L957.0,1479.1 L961.0,1473.7 L965.0,1468.5 L969.0,1463.6 L973.0,1458.8 L977.0,1454.1 L981.0,1449.2 L985.0,1444.2 L989.0,1439.6 L993.0,1435.5 L997.0,1431.9 L1001.0,1428.5 L1005.0,1425.2 L1009.0,1422.0 L1013.0,1419.1 L1017.0,1417.0 L1021.0,1415.3 L1025.0,1414.0 L1029.0,1412.9 L1033.0,1412.0 L1037.0,1411.1 L1041.0,1410.3 L1045.0,1409.3 L1049.0,1408.5 L1053.0,1408.0 L1057.0,1407.6 L1061.0,1407.3 L1065.0,1407.1 L1069.0,1407.0 L1073.0,1407.0 L1077.0,1407.0 L1081.0,1407.0 L1085.0,1407.0 L1089.0,1407.0 L1093.0,1407.0 L1097.0,1407.0 L1101.0,1407.0 L1105.0,1407.0 L1109.0,1407.0 L1113.0,1406.9 L1117.0,1406.6 L1121.0,1406.3 L1125.0,1406.0 L1129.0,1405.8 L1133.0,1405.5 L1137.0,1405.3 L1141.0,1405.0 L1145.0,1404.8 L1149.0,1404.6 L1153.0,1404.3 L1157.0,1404.1 L1161.0,1403.8 L1165.0,1403.6 L1169.0,1403.3 L1173.0,1403.1 L1177.0,1402.8 L1181.0,1402.5 L1185.0,1402.2 L1189.0,1401.9 L1193.0,1401.6 L1197.0,1401.3 L1201.0,1400.9 L1205.0,1400.6 L1209.0,1400.2 L1213.0,1399.8 L1217.0,1399.4 L1221.0,1398.9 L1225.0,1398.5 L1229.0,1398.0 L1233.0,1397.5 L1237.0,1396.9 L1241.0,1396.4 L1245.0,1395.8 L1249.0,1395.2 L1253.0,1394.5 L1257.0,1393.8 L1261.0,1393.0 L1265.0,1392.2 L1269.0,1391.3 L1273.0,1390.3 L1277.0,1389.3 L1281.0,1388.3 L1285.0,1387.2 L1289.0,1386.0 L1293.0,1384.8 L1297.0,1383.5 L1301.0,1382.2 L1305.0,1380.6 L1309.0,1378.9 L1313.0,1377.1 L1317.0,1375.1 L1321.0,1373.1 L1325.0,1371.0 L1329.0,1368.9 L1333.0,1366.7 L1337.0,1364.5 L1341.0,1362.1 L1345.0,1359.8 L1349.0,1357.3 L1353.0,1354.8 L1357.0,1352.3 L1361.0,1349.8 L1365.0,1347.2 L1369.0,1344.5 L1373.0,1341.7 L1377.0,1338.9 L1381.0,1336.0 L1385.0,1333.1 L1389.0,1330.2 L1393.0,1327.4 L1397.0,1324.6 L1401.0,1321.8 L1405.0,1319.0 L1409.0,1316.2 L1413.0,1313.4 L1417.0,1310.7 L1421.0,1308.2 L1425.0,1306.0 L1429.0,1304.0 L1433.0,1302.0 L1437.0,1300.1 L1441.0,1298.4 L1445.0,1296.9 L1449.0,1295.7 L1453.0,1294.8 L1457.0,1293.9 L1461.0,1293.1 L1465.0,1292.4 L1469.0,1291.9 L1473.0,1291.6 L1477.0,1291.5 L1481.0,1291.4 L1485.0,1291.3 L1489.0,1291.3 L1493.0,1291.3 L1497.0,1291.2 L1501.0,1291.2 L1505.0,1291.2 L1509.0,1291.2 L1513.0,1291.1 L1517.0,1291.1 L1521.0,1291.1 L1525.0,1291.0 L1529.0,1290.9 L1533.0,1290.9 L1537.0,1290.8 L1541.0,1290.7 L1545.0,1290.6 L1549.0,1290.5 L1553.0,1290.3 L1557.0,1290.2 L1561.0,1290.1 L1565.0,1289.9 L1569.0,1289.7 L1573.0,1289.5 L1577.0,1289.3 L1581.0,1289.0 L1585.0,1288.8 L1589.0,1288.5 L1593.0,1288.1 L1597.0,1287.8 L1601.0,1287.5 L1605.0,1287.1 L1609.0,1286.7 L1613.0,1286.3 L1617.0,1285.9 L1621.0,1285.4 L1625.0,1285.0 L1629.0,1284.5 L1633.0,1284.0 L1637.0,1283.4 L1641.0,1282.7 L1645.0,1282.1 L1649.0,1281.3 L1653.0,1280.6 L1657.0,1279.8 L1661.0,1279.0 L1665.0,1278.1 L1669.0,1277.3 L1673.0,1276.4 L1677.0,1275.6 L1681.0,1274.7 L1685.0,1273.7 L1689.0,1272.7 L1693.0,1271.7 L1697.0,1270.6 L1701.0,1269.5 L1705.0,1268.3 L1709.0,1267.1 L1713.0,1265.8 L1717.0,1264.5 L1721.0,1263.2 L1725.0,1261.7 L1729.0,1260.1 L1733.0,1258.4 L1737.0,1256.5 L1741.0,1254.5 L1745.0,1252.0 L1749.0,1249.1 L1753.0,1245.9 L1757.0,1242.5 L1761.0,1238.9 L1765.0,1235.1 L1769.0,1230.8 L1773.0,1226.2 L1777.0,1221.4 L1781.0,1216.7 L1785.0,1212.4 L1789.0,1208.4 L1793.0,1204.2 L1797.0,1198.7 L1801.0,1190.1 L1805.0,1178.6 L1809.0,1166.3 L1813.0,1155.5 L1817.0,1146.3 L1821.0,1137.6 L1825.0,1129.1 L1829.0,1121.2 L1833.0,1113.3 L1837.0,1104.7 L1841.0,1094.6 L1845.0,1081.5 L1849.0,1066.3 L1853.0,1051.1 L1857.0,1037.2 L1861.0,1023.8 L1865.0,1009.7 L1869.0,993.9 L1873.0,975.1 L1877.0,954.3 L1881.0,933.4 L1885.0,912.7 L1889.0,891.7 L1893.0,870.7 L1897.0,849.3 L1901.0,828.3 L1905.0,809.0 L1909.0,791.3 L1913.0,774.3 L1917.0,757.8 L1922.5,735.8 L1937.5,674.5 L1963.8,615.8 L1988.8,593.3 L2030.0,589.0" stroke="#0000ff"/>
<path d="M257.0,1583.4 L261.0,1583.4 L265.0,1583.4 L269.0,1583.4 L273.0,1583.4 L277.0,1583.4 L281.0,1583.4 L285.0,1583.4 L289.0,1583.4 L293.0,1583.4 L297.0,1583.4 L301.0,1583.4 L305.0,1583.4 L309.0,1583.4 L313.0,1583.4 L317.0,1583.4 L321.0,1583.4 L325.0,1583.4 L329.0,1583.4 L333.0,1583.4 L337.0,1583.4 L341.0,1583.4 L345.0,1583.4 L349.0,1583.4 L353.0,1583.4 L357.0,1583.4 L361.0,1583.4 L365.0,1583.4 L369.0,1583.4 L373.0,1583.4 L377.0,1583.4 L381.0,1583.4 L385.0,1583.4 L389.0,1583.4 L393.0,1583.4 L397.0,1583.4 L401.0,1583.4 L405.0,1583.4 L409.0,1583.4 L413.0,1583.4 L417.0,1583.4 L421.0,1583.4 L425.0,1583.4 L429.0,1583.4 L433.0,1583.4 L437.0,1583.4 L441.0,1583.4 L445.0,1583.4 L449.0,1583.4 L453.0,1583.4 L457.0,1583.4 L461.0,1583.4 L465.0,1583.4 L469.0,1583.4 L473.0,1583.4 L477.0,1583.4 L481.0,1583.4 L485.0,1583.4 L489.0,1583.4 L493.0,1583.4 L497.0,1583.4 L501.0,1583.4 L505.0,1583.4 L509.0,1583.4 L513.0,1583.4 L517.0,1583.4 L521.0,1583.4 L525.0,1583.4 L529.0,1583.4 L533.0,1583.4 L537.0,1583.4 L541.0,1583.4 L545.0,1583.4 L549.0,1583.4 L553.0,1583.4 L557.0,1583.4 L561.0,1583.4 L565.0,1583.4 L569.0,1583.4 L573.0,1583.4 L577.0,1583.4 L581.0,1583.4 L585.0,1583.4 L589.0,1583.4 L593.0,1583.4 L597.0,1583.4 L601.0,1583.4 L605.0,1583.4 L609.0,1583.4 L613.0,1583.4 L617.0,1583.4 L621.0,1583.4 L625.0,1583.4 L629.0,1583.4 L633.0,1583.4 L637.0,1583.4 L641.0,1583.4 L645.0,1583.4 L649.0,1583.4 L653.0,1583.4 L657.0,1583.4 L661.0,1583.4 L665.0,1583.4 L669.0,1583.4 L673.0,1583.4 L677.0,1583.4 L681.0,1583.4 L685.0,1583.4 L689.0,1583.4 L693.0,1583.4 L697.0,1583.4 L701.0,1583.4 L705.0,1583.4 L709.0,1583.4 L713.0,1583.4 L717.0,1583.4 L721.0,1583.4 L725.0,1583.4 L729.0,1583.4 L733.0,1583.3 L737.0,1583.3 L741.0,1583.3 L745.0,1583.3 L749.0,1583.3 L753.0,1583.3 L757.0,1583.2 L761.0,1583.2 L765.0,1583.2 L769.0,1583.2 L773.0,1583.1 L777.0,1583.1 L781.0,1583.1 L785.0,1583.0 L789.0,1583.0 L793.0,1583.0 L797.0,1582.9 L801.0,1582.8 L805.0,1582.7 L809.0,1582.6 L813.0,1582.5 L817.0,1582.3 L821.0,1582.1 L825.0,1582.0 L829.0,1581.8 L833.0,1581.6 L837.0,1581.4 L841.0,1581.2 L845.0,1580.9 L849.0,1580.6 L853.0,1580.3 L857.0,1580.0 L861.0,1579.6 L865.0,1579.2 L869.0,1578.8 L873.0,1578.4 L877.0,1578.0 L881.0,1577.6 L885.0,1577.2 L889.0,1576.8 L893.0,1576.3 L897.0,1575.8 L901.0,1575.3 L905.0,1574.8 L909.0,1574.3 L913.0,1573.8 L917.0,1573.3 L921.0,1572.7 L925.0,1572.2 L929.0,1571.6 L933.0,1571.0 L937.0,1570.4 L941.0,1569.8 L945.0,1569.2 L949.0,1568.6 L953.0,1567.9 L957.0,1567.3 L961.0,1566.6 L965.0,1565.9 L969.0,1565.2 L973.0,1564.5 L977.0,1563.7 L981.0,1562.9 L985.0,1562.1 L989.0,1561.3 L993.0,1560.4 L997.0,1559.5 L1001.0,1558.6 L1005.0,1557.5 L1009.0,1556.5 L1013.0,1555.3 L1017.0,1554.2 L1021.0,1553.0 L1025.0,1551.8 L1029.0,1550.6 L1033.0,1549.4 L1037.0,1548.2 L1041.0,1547.0 L1045.0,1545.8 L1049.0,1544.5 L1053.0,1543.3 L1057.0,1542.1 L1061.0,1540.8 L1065.0,1539.6 L1069.0,1538.5 L1073.0,1537.4 L1077.0,1536.3 L1081.0,1535.2 L1085.0,1534.1 L1089.0,1533.1 L1093.0,1532.2 L1097.0,1531.3 L1101.0,1530.4 L1105.0,1529.6 L1109.0,1528.8 L1113.0,1528.0 L1117.0,1527.3 L1121.0,1526.6 L1125.0,1526.0 L1129.0,1525.4 L1133.0,1524.9 L1137.0,1524.4 L1141.0,1523.9 L1145.0,1523.4 L1149.0,1523.0 L1153.0,1522.6 L1157.0,1522.1 L1161.0,1521.7 L1165.0,1521.2 L1169.0,1520.8 L1173.0,1520.3 L1177.0,1519.7 L1181.0,1519.2 L1185.0,1518.7 L1189.0,1518.1 L1193.0,1517.6 L1197.0,1517.1 L1201.0,1516.5 L1205.0,1515.9 L1209.0,1515.3 L1213.0,1514.6 L1217.0,1514.0 L1221.0,1513.3 L1225.0,1512.5 L1229.0,1511.7 L1233.0,1510.8 L1237.0,1509.9 L1241.0,1508.9 L1245.0,1507.8 L1249.0,1506.7 L1253.0,1505.5 L1257.0,1504.3 L1261.0,1503.0 L1265.0,1501.6 L1269.0,1500.2 L1273.0,1498.6 L1277.0,1496.9 L1281.0,1495.1 L1285.0,1493.2 L1289.0,1491.2 L1293.0,1489.0 L1297.0,1486.8 L1301.0,1484.4 L1305.0,1481.7 L1309.0,1478.8 L1313.0,1475.6 L1317.0,1472.2 L1321.0,1468.7 L1325.0,1465.0 L1329.0,1461.1 L1333.0,1457.0 L1337.0,1452.6 L1341.0,1448.1 L1345.0,1443.4 L1349.0,1438.7 L1353.0,1433.9 L1357.0,1428.9 L1361.0,1423.7 L1365.0,1418.4 L1369.0,1413.1 L1373.0,1407.7 L1377.0,1402.3 L1381.0,1396.7 L1385.0,1391.0 L1389.0,1385.3 L1393.0,1379.6 L1397.0,1374.0 L1401.0,1368.7 L1405.0,1363.2 L1409.0,1357.7 L1413.0,1352.5 L1417.0,1347.9 L1421.0,1344.1 L1425.0,1340.8 L1429.0,1337.8 L1433.0,1335.0 L1437.0,1332.7 L1441.0,1330.6 L1445.0,1329.0 L1449.0,1327.4 L1453.0,1325.9 L1457.0,1324.5 L1461.0,1323.4 L1465.0,1322.6 L1469.0,1322.1 L1473.0,1321.8 L1477.0,1321.7 L1481.0,1321.5 L1485.0,1321.4 L1489.0,1321.3 L1493.0,1321.2 L1497.0,1321.1 L1501.0,1321.0 L1505.0,1320.9 L1509.0,1320.9 L1513.0,1320.8 L1517.0,1320.7 L1521.0,1320.6 L1525.0,1320.5 L1529.0,1320.4 L1533.0,1320.3 L1537.0,1320.2 L1541.0,1320.0 L1545.0,1319.9 L1549.0,1319.8 L1553.0,1319.7 L1557.0,1319.5 L1561.0,1319.4 L1565.0,1319.2 L1569.0,1319.1 L1573.0,1318.9 L1577.0,1318.7 L1581.0,1318.5 L1585.0,1318.2 L1589.0,1317.9 L1593.0,1317.6 L1597.0,1317.3 L1601.0,1316.9 L1605.0,1316.5 L1609.0,1316.1 L1613.0,1315.7 L1617.0,1315.2 L1621.0,1314.7 L1625.0,1314.2 L1629.0,1313.7 L1633.0,1313.1 L1637.0,1312.6 L1641.0,1312.0 L1645.0,1311.3 L1649.0,1310.5 L1653.0,1309.6 L1657.0,1308.7 L1661.0,1307.7 L1665.0,1306.7 L1669.0,1305.6 L1673.0,1304.5 L1677.0,1303.3 L1681.0,1302.1 L1685.0,1300.8 L1689.0,1299.5 L1693.0,1298.2 L1697.0,1296.8 L1701.0,1295.4 L1705.0,1293.8 L1709.0,1292.2 L1713.0,1290.5 L1717.0,1288.7 L1721.0,1286.8 L1725.0,1284.8 L1729.0,1282.6 L1733.0,1280.3 L1737.0,1277.8 L1741.0,1275.1 L1745.0,1271.8 L1749.0,1268.1 L1753.0,1264.1 L1757.0,1259.8 L1761.0,1255.2 L1765.0,1250.5 L1769.0,1245.7 L1773.0,1240.5 L1777.0,1234.8 L1781.0,1228.7 L1785.0,1222.0 L1789.0,1214.4 L1793.0,1205.9 L1797.0,1196.5 L1801.0,1185.9 L1805.0,1174.4 L1809.0,1162.7 L1813.0,1151.4 L1817.0,1140.4 L1821.0,1129.0 L1825.0,1117.4 L1829.0,1105.4 L1833.0,1092.4 L1837.0,1077.9 L1841.0,1062.0 L1845.0,1045.1 L1849.0,1027.2 L1853.0,1008.2 L1857.0,988.4 L1861.0,967.4 L1865.0,944.8 L1869.0,919.4 L1873.0,892.3 L1877.0,866.7 L1881.0,842.3 L1885.0,818.5 L1889.0,794.5 L1893.0,770.5 L1898.8,735.8 L1938.8,499.5 L1963.8,419.5 L1988.8,389.5 L2030.0,385.2" stroke="#000"/>
<path d="M257.0,1583.4 L261.0,1583.4 L265.0,1583.4 L269.0,1583.4 L273.0,1583.4 L277.0,1583.4 L281.0,1583.4 L285.0,1583.4 L289.0,1583.4 L293.0,1583.4 L297.0,1583.4 L301.0,1583.4 L305.0,1583.4 L309.0,1583.4 L313.0,1583.4 L317.0,1583.4 L321.0,1583.4 L325.0,1583.4 L329.0,1583.4 L333.0,1583.4 L337.0,1583.4 L341.0,1583.4 L345.0,1583.4 L349.0,1583.4 L353.0,1583.4 L357.0,1583.4 L361.0,1583.4 L365.0,1583.4 L369.0,1583.4 L373.0,1583.4 L377.0,1583.4 L381.0,1583.4 L385.0,1583.4 L389.0,1583.4 L393.0,1583.4 L397.0,1583.4 L401.0,1583.4 L405.0,1583.4 L409.0,1583.4 L413.0,1583.4 L417.0,1583.4 L421.0,1583.4 L425.0,1583.4 L429.0,1583.4 L433.0,1583.4 L437.0,1583.4 L441.0,1583.4 L445.0,1583.4 L449.0,1583.4 L453.0,1583.4 L457.0,1583.4 L461.0,1583.4 L465.0,1583.4 L469.0,1583.4 L473.0,1583.4 L477.0,1583.4 L481.0,1583.4 L485.0,1583.4 L489.0,1583.4 L493.0,1583.4 L497.0,1583.4 L501.0,1583.4 L505.0,1583.4 L509.0,1583.4 L513.0,1583.4 L517.0,1583.4 L521.0,1583.4 L525.0,1583.4 L529.0,1583.4 L533.0,1583.4 L537.0,1583.4 L541.0,1583.4 L545.0,1583.4 L549.0,1583.4 L553.0,1583.4 L557.0,1583.4 L561.0,1583.4 L565.0,1583.4 L569.0,1583.4 L573.0,1583.4 L577.0,1583.4 L581.0,1583.4 L585.0,1583.4 L589.0,1583.4 L593.0,1583.4 L597.0,1583.4 L601.0,1583.4 L605.0,1583.4 L609.0,1583.4 L613.0,1583.4 L617.0,1583.4 L621.0,1583.4 L625.0,1583.4 L629.0,1583.4 L633.0,1583.4 L637.0,1583.4 L641.0,1583.4 L645.0,1583.4 L649.0,1583.4 L653.0,1583.3 L657.0,1583.3 L661.0,1583.3 L665.0,1583.3 L669.0,1583.3 L673.0,1583.3 L677.0,1583.3 L681.0,1583.3 L685.0,1583.3 L689.0,1583.2 L693.0,1583.2 L697.0,1583.2 L701.0,1583.2 L705.0,1583.2 L709.0,1583.1 L713.0,1583.0 L717.0,1582.9 L721.0,1582.8 L725.0,1582.7 L729.0,1582.6 L733.0,1582.4 L737.0,1582.3 L741.0,1582.1 L745.0,1581.9 L749.0,1581.7 L753.0,1581.5 L757.0,1581.3 L761.0,1581.1 L765.0,1580.9 L769.0,1580.7 L773.0,1580.4 L777.0,1580.1 L781.0,1579.8 L785.0,1579.4 L789.0,1579.0 L793.0,1578.6 L797.0,1578.2 L801.0,1577.8 L805.0,1577.3 L809.0,1576.9 L813.0,1576.4 L817.0,1575.9 L821.0,1575.4 L825.0,1574.8 L829.0,1574.2 L833.0,1573.5 L837.0,1572.7 L841.0,1571.8 L845.0,1570.6 L849.0,1569.2 L853.0,1567.5 L857.0,1565.6 L861.0,1563.6 L865.0,1561.5 L869.0,1559.3 L873.0,1557.1 L877.0,1554.9 L881.0,1552.6 L885.0,1550.2 L889.0,1547.7 L893.0,1545.0 L897.0,1542.1 L901.0,1539.0 L905.0,1535.6 L909.0,1531.8 L913.0,1527.8 L917.0,1523.6 L921.0,1519.3 L925.0,1514.8 L929.0,1510.1 L933.0,1505.1 L937.0,1499.9 L941.0,1494.7 L945.0,1489.4 L949.0,1484.1 L953.0,1478.6 L957.0,1473.2 L961.0,1467.9 L965.0,1462.9 L969.0,1458.1 L973.0,1453.4 L977.0,1448.6 L981.0,1443.6 L985.0,1438.8 L989.0,1434.5 L993.0,1430.6 L997.0,1427.0 L1001.0,1423.4 L1005.0,1419.6 L1009.0,1416.0 L1013.0,1413.5 L1017.0,1411.6 L1021.0,1410.1 L1025.0,1408.9 L1029.0,1407.9 L1033.0,1407.0 L1037.0,1406.1 L1041.0,1405.3 L1045.0,1404.4 L1049.0,1403.5 L1053.0,1402.9 L1057.0,1402.5 L1061.0,1402.0 L1065.0,1401.7 L1069.0,1401.5 L1073.0,1401.5 L1077.0,1401.5 L1081.0,1401.5 L1085.0,1401.5 L1089.0,1401.5 L1093.0,1401.5 L1097.0,1401.5 L1101.0,1401.5 L1105.0,1401.5 L1109.0,1401.5 L1113.0,1401.4 L1117.0,1401.1 L1121.0,1400.8 L1125.0,1400.5 L1129.0,1400.3 L1133.0,1400.0 L1137.0,1399.8 L1141.0,1399.6 L1145.0,1399.4 L1149.0,1399.2 L1153.0,1399.0 L1157.0,1398.8 L1161.0,1398.5 L1165.0,1398.3 L1169.0,1398.1 L1173.0,1397.9 L1177.0,1397.6 L1181.0,1397.4 L1185.0,1397.1 L1189.0,1396.8 L1193.0,1396.5 L1197.0,1396.2 L1201.0,1395.9 L1205.0,1395.6 L1209.0,1395.2 L1213.0,1394.8 L1217.0,1394.4 L1221.0,1394.0 L1225.0,1393.5 L1229.0,1393.0 L1233.0,1392.5 L1237.0,1392.0 L1241.0,1391.4 L1245.0,1390.8 L1249.0,1390.2 L1253.0,1389.5 L1257.0,1388.8 L1261.0,1388.0 L1265.0,1387.1 L1269.0,1386.2 L1273.0,1385.3 L1277.0,1384.3 L1281.0,1383.2 L1285.0,1382.1 L1289.0,1380.9 L1293.0,1379.6 L1297.0,1378.3 L1301.0,1376.9 L1305.0,1375.3 L1309.0,1373.5 L1313.0,1371.6 L1317.0,1369.6 L1321.0,1367.5 L1325.0,1365.5 L1329.0,1363.3 L1333.0,1361.1 L1337.0,1358.8 L1341.0,1356.4 L1345.0,1353.9 L1349.0,1351.5 L1353.0,1349.0 L1357.0,1346.4 L1361.0,1343.9 L1365.0,1341.2 L1369.0,1338.5 L1373.0,1335.8 L1377.0,1333.0 L1381.0,1330.1 L1385.0,1327.3 L1389.0,1324.4 L1393.0,1321.6 L1397.0,1318.8 L1401.0,1316.1 L1405.0,1313.2 L1409.0,1310.3 L1413.0,1307.5 L1417.0,1304.9 L1421.0,1302.4 L1425.0,1300.1 L1429.0,1297.8 L1433.0,1295.6 L1437.0,1293.5 L1441.0,1291.6 L1445.0,1290.0 L1449.0,1288.7 L1453.0,1287.6 L1457.0,1286.5 L1461.0,1285.5 L1465.0,1284.7 L1469.0,1284.0 L1473.0,1283.6 L1477.0,1283.4 L1481.0,1283.3 L1485.0,1283.2 L1489.0,1283.1 L1493.0,1283.0 L1497.0,1283.0 L1501.0,1282.9 L1505.0,1282.9 L1509.0,1282.8 L1513.0,1282.8 L1517.0,1282.7 L1521.0,1282.7 L1525.0,1282.6 L1529.0,1282.5 L1533.0,1282.3 L1537.0,1282.2 L1541.0,1282.0 L1545.0,1281.8 L1549.0,1281.6 L1553.0,1281.4 L1557.0,1281.2 L1561.0,1281.1 L1565.0,1280.9 L1569.0,1280.7 L1573.0,1280.6 L1577.0,1280.5 L1581.0,1280.3 L1585.0,1280.2 L1589.0,1280.0 L1593.0,1279.8 L1597.0,1279.7 L1601.0,1279.5 L1605.0,1279.3 L1609.0,1279.1 L1613.0,1278.9 L1617.0,1278.7 L1621.0,1278.5 L1625.0,1278.2 L1629.0,1278.0 L1633.0,1277.7 L1637.0,1277.3 L1641.0,1276.9 L1645.0,1276.4 L1649.0,1275.9 L1653.0,1275.3 L1657.0,1274.7 L1661.0,1274.0 L1665.0,1273.3 L1669.0,1272.6 L1673.0,1271.9 L1677.0,1271.2 L1681.0,1270.4 L1685.0,1269.6 L1689.0,1268.8 L1693.0,1267.9 L1697.0,1266.9 L1701.0,1265.7 L1705.0,1264.5 L1709.0,1263.0 L1713.0,1261.2 L1717.0,1259.0 L1721.0,1256.7 L1725.0,1254.2 L1729.0,1251.6 L1733.0,1249.0 L1737.0,1246.3 L1741.0,1243.7 L1745.0,1241.0 L1749.0,1238.3 L1753.0,1235.3 L1757.0,1232.2 L1761.0,1228.8 L1765.0,1225.1 L1769.0,1220.5 L1773.0,1215.7 L1777.0,1211.0 L1781.0,1207.1 L1785.0,1204.2 L1789.0,1201.5 L1793.0,1198.2 L1797.0,1192.8 L1801.0,1183.1 L1805.0,1171.0 L1809.0,1159.3 L1813.0,1149.5 L1817.0,1140.3 L1821.0,1130.9 L1825.0,1121.7 L1829.0,1112.3 L1833.0,1101.9 L1837.0,1089.3 L1841.0,1073.6 L1845.0,1057.0 L1849.0,1042.2 L1853.0,1029.0 L1857.0,1016.0 L1861.0,1001.9 L1865.0,985.2 L1869.0,966.0 L1873.0,945.8 L1877.0,926.4 L1881.0,907.2 L1885.0,888.0 L1889.0,868.7 L1893.0,849.1 L1897.0,829.8 L1901.0,811.6 L1905.0,795.5 L1909.0,779.6 L1913.0,760.9 L1917.0,736.9 L1922.5,704.5 L1929.0,676.0 L1937.5,634.5 L1947.5,606.0 L1962.5,567.0 L1984.0,545.0 L2000.0,540.0 L2030.0,536.0" stroke="#0000ff" stroke-dasharray="30 42.5" stroke-dashoffset="2.5"/>
</g>
<g stroke="#000" stroke-width="6" fill="none" stroke-linecap="butt">
<path d="M294.2,1583.4V1569.4 M294.2,154.0V168.0 M316.0,1583.4V1569.4 M316.0,154.0V168.0 M331.5,1583.4V1569.4 M331.5,154.0V168.0 M343.5,1583.4V1569.4 M343.5,154.0V168.0 M353.3,1583.4V1569.4 M353.3,154.0V168.0 M361.5,1583.4V1569.4 M361.5,154.0V168.0 M368.7,1583.4V1569.4 M368.7,154.0V168.0 M375.0,1583.4V1569.4 M375.0,154.0V168.0 M380.7,1583.4V1555.4 M380.7,154.0V182.0 M418.0,1583.4V1569.4 M418.0,154.0V168.0 M439.7,1583.4V1569.4 M439.7,154.0V168.0 M455.2,1583.4V1569.4 M455.2,154.0V168.0 M467.2,1583.4V1569.4 M467.2,154.0V168.0 M477.0,1583.4V1569.4 M477.0,154.0V168.0 M485.3,1583.4V1569.4 M485.3,154.0V168.0 M492.4,1583.4V1569.4 M492.4,154.0V168.0 M498.8,1583.4V1569.4 M498.8,154.0V168.0 M504.4,1583.4V1555.4 M504.4,154.0V182.0 M541.7,1583.4V1569.4 M541.7,154.0V168.0 M563.4,1583.4V1569.4 M563.4,154.0V168.0 M578.9,1583.4V1569.4 M578.9,154.0V168.0 M590.9,1583.4V1569.4 M590.9,154.0V168.0 M600.7,1583.4V1569.4 M600.7,154.0V168.0 M609.0,1583.4V1569.4 M609.0,154.0V168.0 M616.1,1583.4V1569.4 M616.1,154.0V168.0 M622.5,1583.4V1569.4 M622.5,154.0V168.0 M628.1,1583.4V1555.4 M628.1,154.0V182.0 M665.4,1583.4V1569.4 M665.4,154.0V168.0 M687.2,1583.4V1569.4 M687.2,154.0V168.0 M702.6,1583.4V1569.4 M702.6,154.0V168.0 M714.6,1583.4V1569.4 M714.6,154.0V168.0 M724.4,1583.4V1569.4 M724.4,154.0V168.0 M732.7,1583.4V1569.4 M732.7,154.0V168.0 M739.9,1583.4V1569.4 M739.9,154.0V168.0 M746.2,1583.4V1569.4 M746.2,154.0V168.0 M751.8,1583.4V1555.4 M751.8,154.0V182.0 M789.1,1583.4V1569.4 M789.1,154.0V168.0 M810.9,1583.4V1569.4 M810.9,154.0V168.0 M826.3,1583.4V1569.4 M826.3,154.0V168.0 M838.3,1583.4V1569.4 M838.3,154.0V168.0 M848.1,1583.4V1569.4 M848.1,154.0V168.0 M856.4,1583.4V1569.4 M856.4,154.0V168.0 M863.6,1583.4V1569.4 M863.6,154.0V168.0 M869.9,1583.4V1569.4 M869.9,154.0V168.0 M875.5,1583.4V1555.4 M875.5,154.0V182.0 M912.8,1583.4V1569.4 M912.8,154.0V168.0 M934.6,1583.4V1569.4 M934.6,154.0V168.0 M950.0,1583.4V1569.4 M950.0,154.0V168.0 M962.0,1583.4V1569.4 M962.0,154.0V168.0 M971.8,1583.4V1569.4 M971.8,154.0V168.0 M980.1,1583.4V1569.4 M980.1,154.0V168.0 M987.3,1583.4V1569.4 M987.3,154.0V168.0 M993.6,1583.4V1569.4 M993.6,154.0V168.0 M999.3,1583.4V1555.4 M999.3,154.0V182.0 M1036.5,1583.4V1569.4 M1036.5,154.0V168.0 M1058.3,1583.4V1569.4 M1058.3,154.0V168.0 M1073.7,1583.4V1569.4 M1073.7,154.0V168.0 M1085.7,1583.4V1569.4 M1085.7,154.0V168.0 M1095.5,1583.4V1569.4 M1095.5,154.0V168.0 M1103.8,1583.4V1569.4 M1103.8,154.0V168.0 M1111.0,1583.4V1569.4 M1111.0,154.0V168.0 M1117.3,1583.4V1569.4 M1117.3,154.0V168.0 M1123.0,1583.4V1555.4 M1123.0,154.0V182.0 M1160.2,1583.4V1569.4 M1160.2,154.0V168.0 M1182.0,1583.4V1569.4 M1182.0,154.0V168.0 M1197.5,1583.4V1569.4 M1197.5,154.0V168.0 M1209.4,1583.4V1569.4 M1209.4,154.0V168.0 M1219.2,1583.4V1569.4 M1219.2,154.0V168.0 M1227.5,1583.4V1569.4 M1227.5,154.0V168.0 M1234.7,1583.4V1569.4 M1234.7,154.0V168.0 M1241.0,1583.4V1569.4 M1241.0,154.0V168.0 M1246.7,1583.4V1555.4 M1246.7,154.0V182.0 M1283.9,1583.4V1569.4 M1283.9,154.0V168.0 M1305.7,1583.4V1569.4 M1305.7,154.0V168.0 M1321.2,1583.4V1569.4 M1321.2,154.0V168.0 M1333.1,1583.4V1569.4 M1333.1,154.0V168.0 M1342.9,1583.4V1569.4 M1342.9,154.0V168.0 M1351.2,1583.4V1569.4 M1351.2,154.0V168.0 M1358.4,1583.4V1569.4 M1358.4,154.0V168.0 M1364.7,1583.4V1569.4 M1364.7,154.0V168.0 M1370.4,1583.4V1555.4 M1370.4,154.0V182.0 M1407.6,1583.4V1569.4 M1407.6,154.0V168.0 M1429.4,1583.4V1569.4 M1429.4,154.0V168.0 M1444.9,1583.4V1569.4 M1444.9,154.0V168.0 M1456.9,1583.4V1569.4 M1456.9,154.0V168.0 M1466.7,1583.4V1569.4 M1466.7,154.0V168.0 M1474.9,1583.4V1569.4 M1474.9,154.0V168.0 M1482.1,1583.4V1569.4 M1482.1,154.0V168.0 M1488.4,1583.4V1569.4 M1488.4,154.0V168.0 M1494.1,1583.4V1555.4 M1494.1,154.0V182.0 M1531.3,1583.4V1569.4 M1531.3,154.0V168.0 M1553.1,1583.4V1569.4 M1553.1,154.0V168.0 M1568.6,1583.4V1569.4 M1568.6,154.0V168.0 M1580.6,1583.4V1569.4 M1580.6,154.0V168.0 M1590.4,1583.4V1569.4 M1590.4,154.0V168.0 M1598.6,1583.4V1569.4 M1598.6,154.0V168.0 M1605.8,1583.4V1569.4 M1605.8,154.0V168.0 M1612.1,1583.4V1569.4 M1612.1,154.0V168.0 M1617.8,1583.4V1555.4 M1617.8,154.0V182.0 M1655.1,1583.4V1569.4 M1655.1,154.0V168.0 M1676.8,1583.4V1569.4 M1676.8,154.0V168.0 M1692.3,1583.4V1569.4 M1692.3,154.0V168.0 M1704.3,1583.4V1569.4 M1704.3,154.0V168.0 M1714.1,1583.4V1569.4 M1714.1,154.0V168.0 M1722.4,1583.4V1569.4 M1722.4,154.0V168.0 M1729.5,1583.4V1569.4 M1729.5,154.0V168.0 M1735.9,1583.4V1569.4 M1735.9,154.0V168.0 M1741.5,1583.4V1555.4 M1741.5,154.0V182.0 M1778.8,1583.4V1569.4 M1778.8,154.0V168.0 M1800.5,1583.4V1569.4 M1800.5,154.0V168.0 M1816.0,1583.4V1569.4 M1816.0,154.0V168.0 M1828.0,1583.4V1569.4 M1828.0,154.0V168.0 M1837.8,1583.4V1569.4 M1837.8,154.0V168.0 M1846.1,1583.4V1569.4 M1846.1,154.0V168.0 M1853.2,1583.4V1569.4 M1853.2,154.0V168.0 M1859.6,1583.4V1569.4 M1859.6,154.0V168.0 M1865.2,1583.4V1555.4 M1865.2,154.0V182.0 M1902.5,1583.4V1569.4 M1902.5,154.0V168.0 M1924.3,1583.4V1569.4 M1924.3,154.0V168.0 M1939.7,1583.4V1569.4 M1939.7,154.0V168.0 M1951.7,1583.4V1569.4 M1951.7,154.0V168.0 M1961.5,1583.4V1569.4 M1961.5,154.0V168.0 M1969.8,1583.4V1569.4 M1969.8,154.0V168.0 M1977.0,1583.4V1569.4 M1977.0,154.0V168.0 M1983.3,1583.4V1569.4 M1983.3,154.0V168.0 M1988.9,1583.4V1555.4 M1988.9,154.0V182.0" stroke-width="6.6"/>
<path d="M257.0,1494.1H271.0 M2026.0,1494.1H2012.0 M257.0,1404.7H285.0 M2026.0,1404.7H1998.0 M257.0,1315.4H271.0 M2026.0,1315.4H2012.0 M257.0,1226.1H285.0 M2026.0,1226.1H1998.0 M257.0,1136.7H271.0 M2026.0,1136.7H2012.0 M257.0,1047.4H285.0 M2026.0,1047.4H1998.0 M257.0,958.0H271.0 M2026.0,958.0H2012.0 M257.0,868.7H285.0 M2026.0,868.7H1998.0 M257.0,779.4H271.0 M2026.0,779.4H2012.0 M257.0,690.0H285.0 M2026.0,690.0H1998.0 M257.0,600.7H271.0 M2026.0,600.7H2012.0 M257.0,511.3H285.0 M2026.0,511.3H1998.0 M257.0,422.0H271.0 M2026.0,422.0H2012.0 M257.0,332.7H285.0 M2026.0,332.7H1998.0 M257.0,243.3H271.0 M2026.0,243.3H2012.0" stroke-width="6"/>
<rect x="257.0" y="154.0" width="1769.0" height="1429.4"/>
<path d="M254.0,1583H2029.0" stroke-width="8"/>
</g>
<text transform="translate(227.0,1605.8) scale(1,1.04)" font-size="75px" text-anchor="end">0</text>
<text transform="translate(227.0,1427.1) scale(1,1.04)" font-size="75px" text-anchor="end">1</text>
<text transform="translate(227.0,1248.5) scale(1,1.04)" font-size="75px" text-anchor="end">2</text>
<text transform="translate(227.0,1069.8) scale(1,1.04)" font-size="75px" text-anchor="end">3</text>
<text transform="translate(227.0,891.1) scale(1,1.04)" font-size="75px" text-anchor="end">4</text>
<text transform="translate(227.0,712.4) scale(1,1.04)" font-size="75px" text-anchor="end">5</text>
<text transform="translate(227.0,533.7) scale(1,1.04)" font-size="75px" text-anchor="end">6</text>
<text transform="translate(227.0,355.1) scale(1,1.04)" font-size="75px" text-anchor="end">7</text>
<text transform="translate(227.0,176.4) scale(1,1.04)" font-size="75px" text-anchor="end">8</text>
<text transform="translate(179.2,1684.4) scale(1,1.04)" font-size="75px" text-anchor="start">10<tspan font-size="50px" dy="-30.6">-12</tspan></text>
<text transform="translate(426.6,1684.4) scale(1,1.04)" font-size="75px" text-anchor="start">10<tspan font-size="50px" dy="-30.6">-10</tspan></text>
<text transform="translate(687.9,1684.4) scale(1,1.04)" font-size="75px" text-anchor="start">10<tspan font-size="50px" dy="-30.6">-8</tspan></text>
<text transform="translate(935.3,1684.4) scale(1,1.04)" font-size="75px" text-anchor="start">10<tspan font-size="50px" dy="-30.6">-6</tspan></text>
<text transform="translate(1182.8,1684.4) scale(1,1.04)" font-size="75px" text-anchor="start">10<tspan font-size="50px" dy="-30.6">-4</tspan></text>
<text transform="translate(1430.2,1684.4) scale(1,1.04)" font-size="75px" text-anchor="start">10<tspan font-size="50px" dy="-30.6">-2</tspan></text>
<text transform="translate(1685.9,1684.4) scale(1,1.04)" font-size="75px" text-anchor="start">10<tspan font-size="50px" dy="-30.6">0</tspan></text>
<text transform="translate(1933.3,1684.4) scale(1,1.04)" font-size="75px" text-anchor="start">10<tspan font-size="50px" dy="-30.6">2</tspan></text>
<text x="1140.5" y="1809.4" font-size="89px" text-anchor="middle">Time (s)</text>
<text transform="translate(107,868.7) rotate(-90)" font-size="88px" text-anchor="middle"><tspan font-style="italic">G</tspan>(Fe<tspan font-size="58px" dy="-36.5">3+</tspan><tspan dy="36.5">) (molecule/100 eV)</tspan></text>
<text transform="translate(1878.5,92.2)" font-size="74.7px" text-anchor="start">[Cystamine]</text>
<text transform="translate(2060.6,381.6) scale(1,1.04)" font-size="75px" text-anchor="start">0</text>
<text transform="translate(2046.5,599.1) scale(1,1.04)" font-size="75px" text-anchor="start">10<tspan font-size="44px" dy="-28.3">–</tspan><tspan font-size="50px" dy="-1.0">3</tspan><tspan dy="29.2"> M</tspan></text>
<text transform="translate(2044.7,1056.9) scale(1,1.04)" font-size="75px" text-anchor="start">1 M</text>
<rect x="304.6" y="201" width="701" height="533.3" fill="#fff" stroke="#000" stroke-width="3"/>
<text transform="translate(314.0,263.0) scale(1,1.03)" font-size="60.55px" text-anchor="start">1 mM FeSO<tspan font-size="40px" dy="16.0">4</tspan></text>
<text transform="translate(314.0,351.7) scale(1,1.03)" font-size="60.55px" text-anchor="start">0.4 M H<tspan font-size="40px" dy="16.3">2</tspan><tspan dy="-16.3">SO</tspan><tspan font-size="40px" dy="16.3">4</tspan><tspan dy="-16.3"> (pH 0.46)</tspan></text>
<text transform="translate(314.0,460.0) scale(1,1.03)" font-size="60.55px" text-anchor="start">[O<tspan font-size="40px" dy="15.9">2</tspan><tspan dy="-15.9">] = 2.5 x 10</tspan><tspan font-size="40px" dy="-24.5">–4</tspan><tspan dy="24.5"> M</tspan></text>
<text transform="translate(314.0,556.9) scale(1,1.03)" font-size="60.55px" text-anchor="start">6 MeV/nucleon <tspan font-size="40px" dx="2.5" dy="-24.3">12</tspan><tspan dy="24.3">C</tspan><tspan font-size="40px" dy="-24.3">6+</tspan><tspan dy="24.3"> ions</tspan></text>
<text transform="translate(314.0,631.7) scale(1,1.03)" font-size="60.55px" text-anchor="start">(LET ~ 284 keV/μm)</text>
<text transform="translate(314.0,713.7) scale(1,1.03)" font-size="60.55px" text-anchor="start">25 °C</text>
</svg></body></html>
